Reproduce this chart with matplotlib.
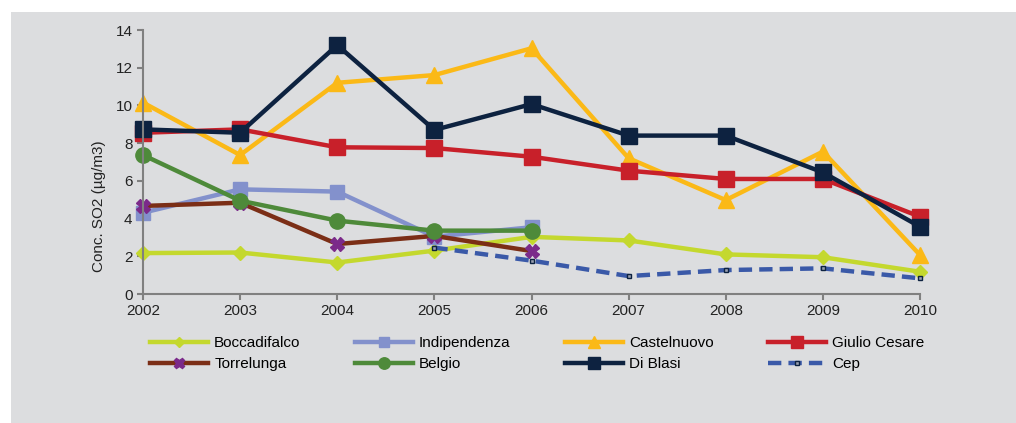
import matplotlib
matplotlib.use("Agg")
import matplotlib.pyplot as plt
from matplotlib.patches import Rectangle

plt.rcParams['font.family'] = ['Liberation Sans', 'DejaVu Sans']

years = [2002, 2003, 2004, 2005, 2006, 2007, 2008, 2009, 2010]

# SO2 yearly means per station
boccadifalco = [2.17, 2.2, 1.67, 2.3, 3.03, 2.84, 2.1, 1.95, 1.18]
indipendenza = [4.31, 5.55, 5.43, 3.04, 3.54]
castelnuovo = [10.15, 7.37, 11.2, 11.61, 13.03, 7.2, 4.98, 7.55, 2.07]
giulio_cesare = [8.55, 8.73, 7.78, 7.74, 7.28, 6.54, 6.1, 6.1, 4.1]
torrelunga = [4.67, 4.84, 2.65, 3.08, 2.28]
belgio = [7.37, 4.95, 3.89, 3.36, 3.36]
di_blasi = [8.73, 8.55, 13.2, 8.7, 10.07, 8.4, 8.4, 6.45, 3.57]
cep_years = [2005, 2006, 2007, 2008, 2009, 2010]
cep = [2.46, 1.77, 0.95, 1.27, 1.36, 0.83]

bg = '#dcdddf'
fig = plt.figure(figsize=(10.16, 4.23), dpi=100)
fig.patches.append(Rectangle((11 / 1016, 0), 1, 1 - 12 / 423,
                             transform=fig.transFigure, facecolor=bg,
                             edgecolor='none', zorder=-1))

ax = fig.add_axes([143 / 1016, 1 - 294 / 423, 777 / 1016, 264 / 423])
ax.set_facecolor(bg)
ax.set_zorder(1)

lw = 3.2
ax.plot(years, boccadifalco, color='#c4d82e', lw=lw, marker='D', ms=7,
        label='Boccadifalco', clip_on=False)
ax.plot(years[:5], indipendenza, color='#8391cc', lw=lw, marker='s', ms=10,
        label='Indipendenza', clip_on=False)
ax.plot(years, castelnuovo, color='#fbb917', lw=lw, marker='^', ms=12,
        label='Castelnuovo', clip_on=False)
ax.plot(years, giulio_cesare, color='#c8202a', lw=lw, marker='s', ms=11,
        label='Giulio Cesare', clip_on=False)
ax.plot(years[:5], torrelunga, color='#7b2e16', lw=lw, marker='X', ms=10,
        mfc='#7b2a8a', mec='#7b2a8a', label='Torrelunga', clip_on=False)
ax.plot(years[:5], belgio, color='#4e8a3a', lw=lw, marker='o', ms=11,
        label='Belgio', clip_on=False)
ax.plot(years, di_blasi, color='#0d2240', lw=lw, marker='s', ms=11,
        label='Di Blasi', clip_on=False)
ax.plot(cep_years, cep, color='#3a59a8', lw=lw, dashes=(3, 1.6), marker='s',
        ms=3, mfc='#9aa0b0', mec='#0d2240', mew=1, label='Cep', clip_on=False)

ax.set_xlim(2002, 2010)
ax.set_ylim(0, 14)
ax.set_xticks(years)
ax.set_yticks(range(0, 15, 2))
ax.tick_params(labelsize=11, color='#808080', length=4, width=1.5,
               labelcolor='#222222')
for s in ['top', 'right']:
    ax.spines[s].set_visible(False)
for s in ['left', 'bottom']:
    ax.spines[s].set_color('#808080')
    ax.spines[s].set_linewidth(1.5)
ax.set_ylabel('Conc. SO2 (µg/m3)', fontsize=11, color='#222222')
ax.yaxis.set_label_coords(-0.048, 0.333)

# legend filled row by row like the original
h, l = ax.get_legend_handles_labels()
order = [0, 4, 1, 5, 2, 6, 3, 7]
fig.legend([h[i] for i in order], [l[i] for i in order],
           loc='upper left', bbox_to_anchor=(150 / 1016, 1 - 336 / 423),
           ncol=4, frameon=False, fontsize=11, handlelength=3.8,
           handletextpad=0.4, columnspacing=3.55, borderpad=0,
           borderaxespad=0, labelspacing=0.45, markerscale=0.75)

fig.savefig('out.png', dpi=100)
